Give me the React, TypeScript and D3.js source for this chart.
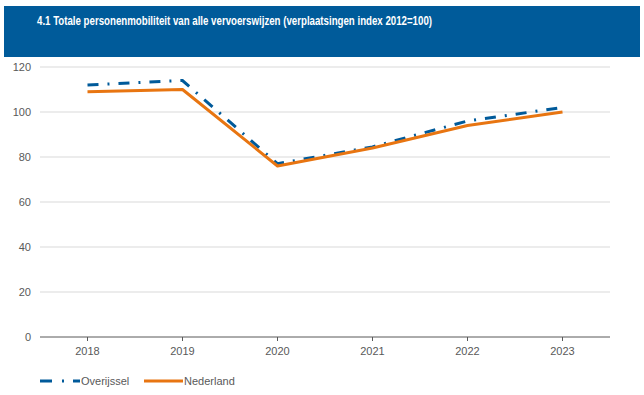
import React from "react";
import * as d3 from "d3";

const years = ["2018", "2019", "2020", "2021", "2022", "2023"];
const overijssel = [112, 114, 77, 84.5, 96, 102];
const nederland = [109, 110, 76, 84, 94, 100];
const yTicks = [0, 20, 40, 60, 80, 100, 120];
const title = "4.1 Totale personenmobiliteit van alle vervoerswijzen (verplaatsingen index 2012=100)";

export default function App() {
  const W = 644, H = 395;
  const left = 40, right = 610, top = 67, bottom = 337;
  const x = d3.scalePoint<string>().domain(years).range([left, right]).padding(0.5);
  const y = d3.scaleLinear().domain([0, 120]).range([bottom, top]);
  const line = d3.line<number>().x((_, i) => x(years[i])!).y((d) => y(d));
  const blue = "#005A9A";
  const orange = "#E87511";
  const font = "Liberation Sans, Arial, sans-serif";
  return (
    <svg width={W} height={H} style={{ position: "absolute", left: 0, top: 0, display: "block" }}>
      <rect x={0} y={0} width={W} height={H} fill="#fff" />
      <rect x={4} y={6} width={636} height={51} fill="#005B9A" />
      <text x={37} y={24.5} fill="#fff" fontFamily="Liberation Sans, Arial, sans-serif" fontWeight="bold" fontSize={13.2} textLength={395} lengthAdjust="spacingAndGlyphs">{title}</text>
      {yTicks.map((t) => (
        <g key={t}>
          {t > 0 && <line x1={left} x2={right} y1={y(t)} y2={y(t)} stroke="#D9D9D9" strokeWidth={1} />}
          <text x={31} y={y(t) + 4} textAnchor="end" fontFamily={font} fontSize={11} fill="#595959">{t}</text>
        </g>
      ))}
      <line x1={left} x2={right} y1={bottom} y2={bottom} stroke="#595959" strokeWidth={1} />
      {years.map((yr) => (
        <g key={yr}>
          <line x1={x(yr)!} x2={x(yr)!} y1={bottom} y2={bottom + 4} stroke="#595959" />
          <text x={x(yr)!} y={bottom + 18} textAnchor="middle" fontFamily={font} fontSize={11} fill="#595959">{yr}</text>
        </g>
      ))}
      <path d={line(overijssel)!} fill="none" stroke={blue} strokeWidth={3} strokeDasharray="11,9,2,9" />
      <path d={line(nederland)!} fill="none" stroke={orange} strokeWidth={3} strokeLinejoin="round" />
      <g>
        <line x1={40} x2={80} y1={381} y2={381} stroke={blue} strokeWidth={3} strokeDasharray="12,10,2,9" />
        <text x={81} y={385} fontFamily={font} fontSize={11} fill="#595959">Overijssel</text>
        <line x1={144} x2={183} y1={381} y2={381} stroke={orange} strokeWidth={3} />
        <text x={184} y={385} fontFamily={font} fontSize={11} fill="#595959">Nederland</text>
      </g>
    </svg>
  );
}
